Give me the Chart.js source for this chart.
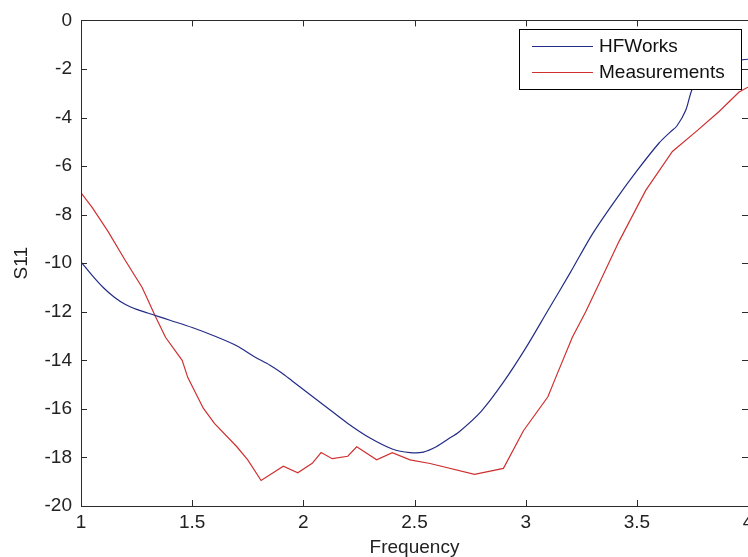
<!DOCTYPE html>
<html lang="en">
<head>
    <meta charset="UTF-8">
    <title>S11 vs Frequency</title>
    <script src="https://cdn.jsdelivr.net/npm/chart.js"></script>
    <style>
        html, body {
            margin: 0;
            padding: 0;
            background: #ffffff;
            overflow: hidden;
        }
        #wrap {
            position: absolute;
            left: 0;
            top: 0;
        }
    </style>
</head>
<body>
<div id="wrap"><canvas id="s11Chart" width="800" height="557"></canvas></div>
<script>
    // values
    const hfFreq = [1.00, 1.05, 1.10, 1.15, 1.20, 1.25, 1.30, 1.35, 1.40, 1.50, 1.60, 1.70, 1.78, 1.85, 1.90, 1.95,
        2.00, 2.10, 2.20, 2.30, 2.40, 2.48, 2.54, 2.60, 2.65, 2.70, 2.80, 2.90, 3.00, 3.10, 3.20, 3.30, 3.40,
        3.50, 3.60, 3.65, 3.68, 3.72, 3.75, 3.80, 3.85, 3.90, 4.00];
    const hfS11 = [-9.95, -10.5, -11.0, -11.4, -11.7, -11.9, -12.05, -12.2, -12.35, -12.65, -13.0, -13.4, -13.85, -14.2, -14.5, -14.85,
        -15.2, -15.9, -16.6, -17.2, -17.65, -17.8, -17.78, -17.55, -17.25, -16.95, -16.1, -14.9, -13.5, -11.95, -10.4, -8.8, -7.45,
        -6.2, -5.05, -4.6, -4.35, -3.7, -2.8, -2.1, -1.8, -1.7, -1.6];

    const measFreq = [1.00, 1.05, 1.12, 1.20, 1.275, 1.30, 1.33, 1.38, 1.455, 1.48, 1.55, 1.60, 1.70, 1.75, 1.81,
        1.91, 1.975, 2.04, 2.08, 2.13, 2.20, 2.24, 2.33, 2.40, 2.48, 2.57, 2.77, 2.90, 2.99, 3.10, 3.14,
        3.21, 3.27, 3.33, 3.42, 3.54, 3.66, 3.77, 3.87, 3.96, 4.00];
    const measS11 = [-7.1, -7.7, -8.67, -9.9, -11.0, -11.5, -12.1, -13.05, -14.0, -14.7, -15.97, -16.6, -17.55, -18.1, -18.95,
        -18.36, -18.63, -18.24, -17.8, -18.05, -17.95, -17.56, -18.1, -17.8, -18.1, -18.25, -18.7, -18.45, -16.9, -15.5, -14.6,
        -13.05, -12.0, -10.85, -9.1, -7.0, -5.4, -4.55, -3.75, -2.95, -2.75];

    const xTicks = [1, 1.5, 2, 2.5, 3, 3.5, 4];
    const yTicks = [-20, -18, -16, -14, -12, -10, -8, -6, -4, -2, 0];

    const seriesNames = ['HFWorks', 'Measurements'];
    const seriesColors = ['#232c86', '#cf3030'];

    const fontFamily = '"Liberation Sans", Arial, Helvetica, sans-serif';
    const fontSize = 19;

    function toPoints(xs, ys) {
        return xs.map((x, i) => ({ x: x, y: ys[i] }));
    }

    // MATLAB style box with ticks pointing inwards on all four sides
    const boxTicks = {
        id: 'boxTicks',
        afterDraw(chart) {
            const ctx = chart.ctx;
            const a = chart.chartArea;
            const xs = chart.scales.x;
            const ys = chart.scales.y;
            const len = 6;
            ctx.save();
            ctx.strokeStyle = '#2b2b2b';
            ctx.lineWidth = 1;
            ctx.beginPath();
            ctx.rect(Math.round(a.left) + 0.5, Math.round(a.top) + 0.5,
                Math.round(a.right - a.left), Math.round(a.bottom - a.top));
            xs.ticks.forEach(t => {
                const px = Math.round(xs.getPixelForValue(t.value)) + 0.5;
                ctx.moveTo(px, a.bottom);
                ctx.lineTo(px, a.bottom - len);
                ctx.moveTo(px, a.top);
                ctx.lineTo(px, a.top + len);
            });
            ys.ticks.forEach(t => {
                const py = Math.round(ys.getPixelForValue(t.value)) + 0.5;
                ctx.moveTo(a.left, py);
                ctx.lineTo(a.left + len, py);
                ctx.moveTo(a.right, py);
                ctx.lineTo(a.right - len, py);
            });
            ctx.stroke();
            ctx.restore();
        }
    };

    // legend box in the upper right corner
    const legendBox = {
        id: 'legendBox',
        afterDraw(chart) {
            const ctx = chart.ctx;
            const left = 519, top = 29, w = 222, h = 60;
            ctx.save();
            ctx.fillStyle = '#ffffff';
            ctx.fillRect(left, top, w, h);
            ctx.strokeStyle = '#000000';
            ctx.lineWidth = 1;
            ctx.strokeRect(left + 0.5, top + 0.5, w, h);
            ctx.font = fontSize + 'px ' + fontFamily;
            ctx.textBaseline = 'middle';
            ctx.textAlign = 'left';
            chart.data.datasets.forEach((ds, i) => {
                const y = top + 17 + i * 26;
                ctx.strokeStyle = ds.borderColor;
                ctx.lineWidth = 1.2;
                ctx.beginPath();
                ctx.moveTo(left + 13, y + 0.5);
                ctx.lineTo(left + 74, y + 0.5);
                ctx.stroke();
                ctx.fillStyle = '#111111';
                ctx.fillText(ds.label, left + 80, y + 1);
            });
            ctx.restore();
        }
    };

    const ctx = document.getElementById('s11Chart').getContext('2d');
    new Chart(ctx, {
        type: 'line',
        data: {
            datasets: [
                {
                    label: seriesNames[0],
                    data: toPoints(hfFreq, hfS11),
                    borderColor: seriesColors[0],
                    borderWidth: 1.2,
                    pointRadius: 0,
                    tension: 0.3,
                    fill: false
                },
                {
                    label: seriesNames[1],
                    data: toPoints(measFreq, measS11),
                    borderColor: seriesColors[1],
                    borderWidth: 1.2,
                    pointRadius: 0,
                    tension: 0,
                    fill: false
                }
            ]
        },
        options: {
            responsive: false,
            animation: false,
            devicePixelRatio: 1,
            layout: { padding: { top: 19, right: 52, left: 0, bottom: 0 } },
            plugins: {
                legend: { display: false },
                tooltip: { enabled: false }
            },
            scales: {
                x: {
                    type: 'linear',
                    min: 1,
                    max: 4,
                    afterBuildTicks: scale => { scale.ticks = xTicks.map(v => ({ value: v })); },
                    afterFit: scale => { scale.height = 51; },
                    grid: { display: false, drawTicks: false },
                    border: { display: false },
                    ticks: {
                        color: '#222222',
                        font: { family: fontFamily, size: fontSize },
                        padding: 5,
                        maxRotation: 0,
                        autoSkip: false,
                        callback: value => String(value)
                    },
                    title: {
                        display: true,
                        text: 'Frequency',
                        color: '#222222',
                        font: { family: fontFamily, size: fontSize, lineHeight: 1 },
                        padding: { top: -1, bottom: 0 }
                    }
                },
                y: {
                    min: -20,
                    max: 0,
                    afterBuildTicks: scale => { scale.ticks = yTicks.map(v => ({ value: v })); },
                    afterFit: scale => { scale.width = 81; },
                    grid: { display: false, drawTicks: false },
                    border: { display: false },
                    ticks: {
                        color: '#222222',
                        font: { family: fontFamily, size: fontSize },
                        padding: 9,
                        autoSkip: false,
                        callback: value => String(value)
                    },
                    title: {
                        display: true,
                        text: 'S11',
                        color: '#222222',
                        font: { family: fontFamily, size: fontSize, lineHeight: 1 },
                        padding: { top: 12, bottom: 0 }
                    }
                }
            }
        },
        plugins: [boxTicks, legendBox]
    });
</script>
</body>
</html>
